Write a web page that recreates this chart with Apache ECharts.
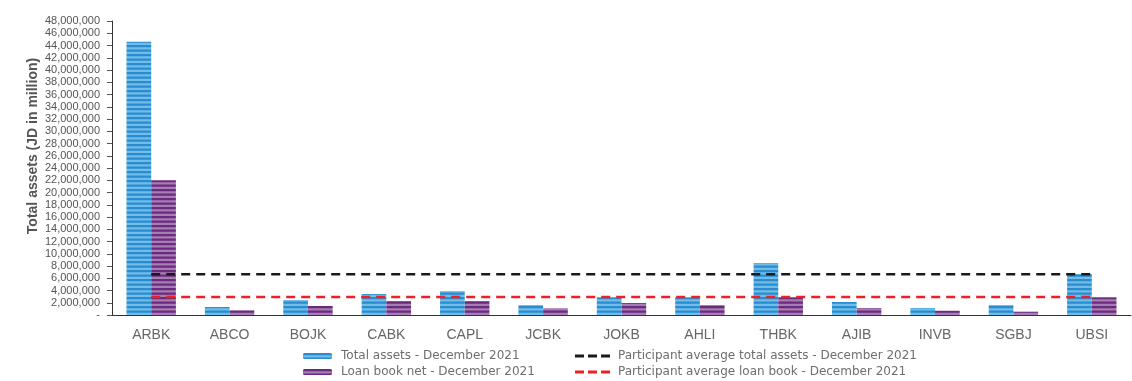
<!DOCTYPE html>
<html>
<head>
<meta charset="utf-8">
<script src="https://cdn.jsdelivr.net/npm/echarts@6/dist/echarts.min.js"></script>
<style>
  html, body { margin: 0; padding: 0; background: #fff; }
  #main { width: 1132px; height: 381px; }
</style>
</head>
<body>
<div id="main"></div>
<script>
var banks = ["ARBK", "ABCO", "BOJK", "CABK", "CAPL", "JCBK", "JOKB", "AHLI", "THBK", "AJIB", "INVB", "SGBJ", "UBSI"];
var totalAssets = [44600000, 1300000, 2450000, 3430000, 3900000, 1630000, 2890000, 2890000, 8470000, 2120000, 1140000, 1630000, 6690000];
var loanBook = [22000000, 770000, 1470000, 2290000, 2290000, 1090000, 1960000, 1630000, 2890000, 1140000, 700000, 540000, 2890000];
var avgTotalAssets = [6640000, 6640000, 6640000, 6640000, 6640000, 6640000, 6640000, 6640000, 6640000, 6640000, 6640000, 6640000, 6640000];
var avgLoanBook = [2950000, 2950000, 2950000, 2950000, 2950000, 2950000, 2950000, 2950000, 2950000, 2950000, 2950000, 2950000, 2950000];

var seriesNames = [
  "Total assets - December 2021",
  "Loan book net - December 2021",
  "Participant average total assets - December 2021",
  "Participant average loan book - December 2021"
];

// striped fill for the bars
function stripes(dark, light) {
  var c = document.createElement("canvas");
  c.width = 4;
  c.height = 9;
  var ctx = c.getContext("2d");
  ctx.fillStyle = light;
  ctx.fillRect(0, 0, 4, 9);
  ctx.fillStyle = dark;
  ctx.fillRect(0, 0, 4, 2.25);
  ctx.fillRect(0, 4.5, 4, 2.25);
  return { image: c, repeat: "repeat" };
}

var bluePattern = stripes("#2a8ccf", "#72bce8");
var purplePattern = stripes("#6b2b7d", "#a67db5");

var font = "'Liberation Sans', Arial, sans-serif";
var legendFont = "'DejaVu Sans', sans-serif";
var dashIcon = "path://M0,0h9v3h-9z M13,0h9v3h-9z M26,0h9v3h-9z";

function legendItem(name, left, top, w, h, icon, padLeft) {
  var l = {
    left: left,
    top: top,
    padding: 0,
    itemWidth: w,
    itemHeight: h,
    data: [name],
    textStyle: { fontFamily: legendFont, fontSize: 12, lineHeight: 14, color: "#6e6e6e", padding: [0, 0, 0, padLeft] }
  };
  if (icon) l.icon = icon;
  return l;
}

var chartDom = document.getElementById("main");
var myChart = echarts.init(chartDom);
var option = {
  animation: false,
  textStyle: { fontFamily: font },
  grid: { left: 112, right: 1, top: 21, bottom: 66 },
  legend: [
    legendItem(seriesNames[0], 303, 349, 29, 6, null, 4),
    legendItem(seriesNames[1], 303, 365, 29, 6, null, 4),
    legendItem(seriesNames[2], 575, 349, 35, 3, dashIcon, 3),
    legendItem(seriesNames[3], 575, 365, 35, 3, dashIcon, 3)
  ],
  xAxis: {
    type: "category",
    data: banks,
    axisLine: { lineStyle: { color: "#333", width: 1 } },
    axisTick: { length: 5, lineStyle: { color: "#555" } },
    axisLabel: { fontFamily: font, fontSize: 14, color: "#666", margin: 13 }
  },
  yAxis: {
    type: "value",
    min: 0,
    max: 48000000,
    interval: 2000000,
    name: "Total assets (JD in million)",
    nameLocation: "middle",
    nameGap: 72,
    nameMoveOverlap: false,
    nameTextStyle: { fontFamily: font, fontSize: 14, fontWeight: "bold", color: "#555", padding: [0, 0, 0, 44] },
    axisLine: { show: true, lineStyle: { color: "#333", width: 1 } },
    axisTick: { show: true, length: 5, lineStyle: { color: "#555" } },
    splitLine: { show: false },
    axisLabel: {
      fontFamily: font,
      fontSize: 11,
      color: "#555",
      margin: 12,
      formatter: function (v) {
        return v === 0 ? "-" : v.toLocaleString("en-US");
      }
    }
  },
  series: [
    {
      name: seriesNames[0],
      type: "bar",
      data: totalAssets,
      barGap: "0%",
      barCategoryGap: "37%",
      itemStyle: { color: bluePattern }
    },
    {
      name: seriesNames[1],
      type: "bar",
      data: loanBook,
      itemStyle: { color: purplePattern }
    },
    {
      name: seriesNames[2],
      type: "line",
      data: avgTotalAssets,
      symbol: "none",
      z: 5,
      itemStyle: { color: "#1a1a1a" },
      lineStyle: { color: "#1a1a1a", width: 2.5, type: [9, 6] }
    },
    {
      name: seriesNames[3],
      type: "line",
      data: avgLoanBook,
      symbol: "none",
      z: 5,
      itemStyle: { color: "#ee2026" },
      lineStyle: { color: "#ee2026", width: 2.5, type: [9, 6] }
    }
  ]
};
myChart.setOption(option);
</script>
</body>
</html>
